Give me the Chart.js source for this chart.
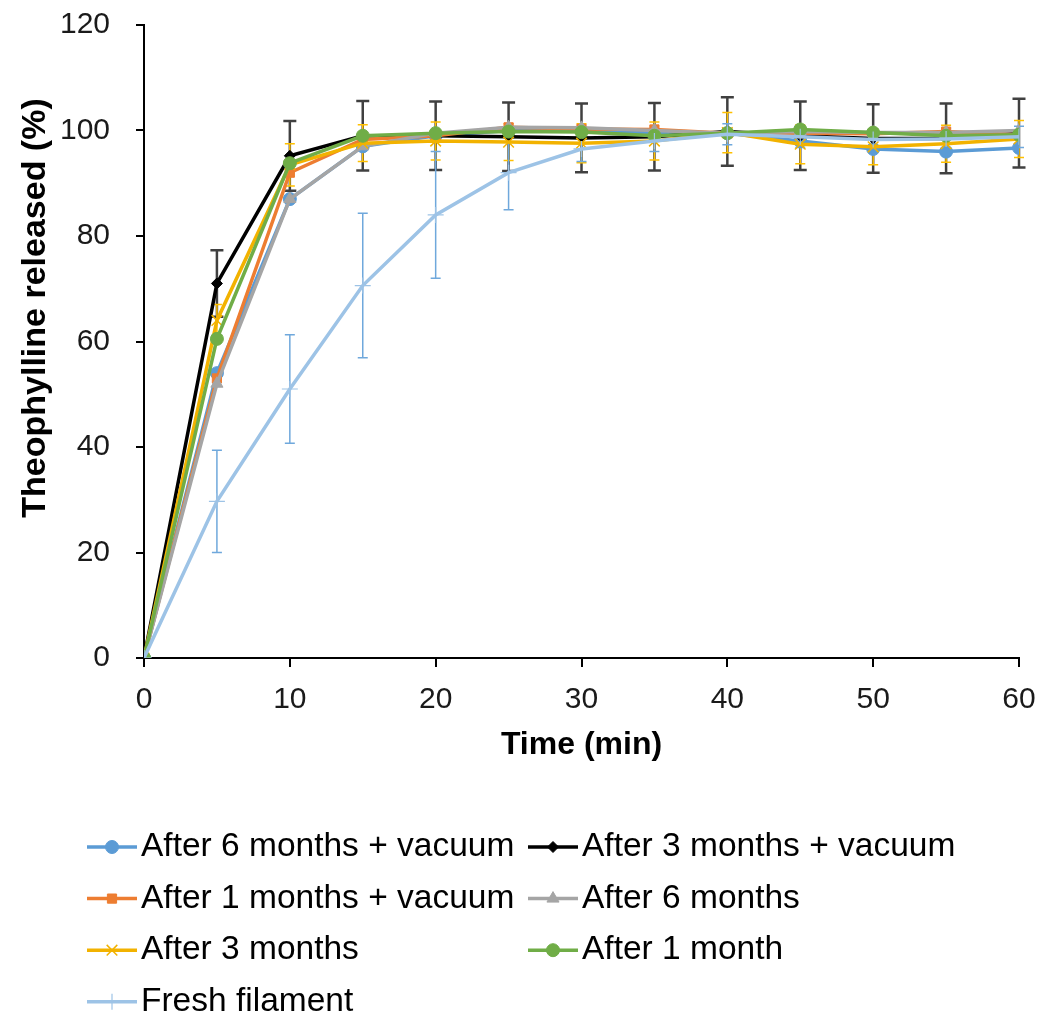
<!DOCTYPE html>
<html>
<head>
<meta charset="utf-8">
<script src="https://cdn.jsdelivr.net/npm/chart.js@4.4.1/dist/chart.umd.min.js"></script>
<style>
  html, body { margin: 0; padding: 0; background: #fff; }
  #wrap { width: 1043px; height: 1017px; }
</style>
</head>
<body>
<div id="wrap"><canvas id="releaseChart" width="1043" height="1017"></canvas></div>
<script>
// sampling times (min)
var timePoints = [0, 5, 10, 15, 20, 25, 30, 35, 40, 45, 50, 55, 60];

// % theophylline released
var sixMonthsVac   = [0, 54, 87, 97, 99, 100, 100, 99.5, 99.5, 98, 96.5, 96, 96.7];
var threeMonthsVac = [0, 71, 95.2, 99, 99, 98.8, 98.6, 98.8, 99.8, 99, 98.5, 98.5, 99.5];
var oneMonthVac    = [0, 53, 92, 98.3, 99, 100.6, 100.3, 100.2, 99.5, 99.5, 99.4, 99.8, 99.2];
var sixMonths      = [0, 52, 87, 97, 99.5, 100.6, 100.5, 100, 99.5, 99.8, 99.6, 99.6, 100];
var threeMonths    = [0, 64, 93.5, 97.6, 98, 97.8, 97.6, 98, 99.6, 97.4, 96.9, 97.5, 98.4];
var oneMonth       = [0, 60.5, 93.8, 99, 99.5, 99.8, 99.7, 99, 99.5, 100.2, 99.6, 99, 99.2];
var freshFilament  = [0, 29.7, 51, 70.6, 84, 92, 96.5, 98, 99.3, 98.8, 98.3, 98.4, 98.8];

// standard deviations (only the visible ones)
var threeMonthsVacSD = [0, 6.3, 6.6, 6.6, 6.5, 6.5, 6.5, 6.4, 6.5, 6.5, 6.5, 6.6, 6.5];
var threeMonthsSD    = [0, 3, 4, 3.5, 3.6, 3.5, 3.7, 3.6, 3.8, 3.7, 3.4, 3.5, 3.5];
var freshSD          = [0, 9.7, 10.3, 13.7, 12, 7, 2.4, 2, 2, 2, 2, 2, 2];

var seriesLabels = [
  "After 6 months + vacuum", "After 3 months + vacuum",
  "After 1 months + vacuum", "After 6 months",
  "After 3 months", "After 1 month", "Fresh filament"
];

var yTicks = [0, 20, 40, 60, 80, 100, 120];
var yTitle = "Theophylline released (%)";

function pts(values) {
  return values.map(function (v, i) { return { x: timePoints[i], y: v }; });
}

function series(i, values, color, style, radius, extra) {
  var ds = {
    label: seriesLabels[i],
    data: pts(values),
    borderColor: color,
    backgroundColor: color,
    borderWidth: 3.5,
    pointStyle: style,
    pointRadius: radius,
    pointHoverRadius: radius,
    pointBackgroundColor: color,
    pointBorderColor: color,
    pointBorderWidth: 1,
    tension: 0,
    order: 10 - i // later series on top, like Excel
  };
  for (var k in extra) ds[k] = extra[k];
  return ds;
}

var datasets = [
  series(0, sixMonthsVac, "#5B9BD5", "circle", 6.5),
  series(1, threeMonthsVac, "#000000", "rectRot", 5.5,
    { errors: threeMonthsVacSD, errorColor: "#404040", errorWidth: 2.5, errorCap: 6.5 }),
  series(2, oneMonthVac, "#ED7D31", "rect", 6.5),
  series(3, sixMonths, "#A5A5A5", "triangle", 7),
  series(4, threeMonths, "#F2B200", "crossRot", 7.5,
    { pointBorderWidth: 1.5, errors: threeMonthsSD, errorColor: "#FFC000", errorWidth: 1.5, errorCap: 5 }),
  series(5, oneMonth, "#70AD47", "circle", 6.5),
  series(6, freshFilament, "#9DC3E6", "cross", 8,
    { pointBorderWidth: 1.2, errors: freshSD, errorColor: "#6FA8DC", errorWidth: 1.5, errorCap: 5 })
];

var errorBarPlugin = {
  id: "errorBars",
  beforeDatasetsDraw: function (chart) {
    var ctx = chart.ctx;
    var xs = chart.scales.x, ys = chart.scales.y;
    chart.data.datasets.forEach(function (ds) {
      if (!ds.errors) return;
      ctx.save();
      ctx.strokeStyle = ds.errorColor;
      ctx.lineWidth = ds.errorWidth;
      ds.data.forEach(function (p, j) {
        var e = ds.errors[j];
        if (!e) return;
        var x = xs.getPixelForValue(p.x);
        var top = ys.getPixelForValue(p.y + e);
        var bot = ys.getPixelForValue(p.y - e);
        var c = ds.errorCap;
        ctx.beginPath();
        ctx.moveTo(x, top); ctx.lineTo(x, bot);
        ctx.moveTo(x - c, top); ctx.lineTo(x + c, top);
        ctx.moveTo(x - c, bot); ctx.lineTo(x + c, bot);
        ctx.stroke();
      });
      ctx.restore();
    });
  }
};

// y title sits a bit above the plot centre in the original, so draw it by hand
var yTitlePlugin = {
  id: "yTitle",
  afterDraw: function (chart) {
    var ctx = chart.ctx;
    ctx.save();
    ctx.translate(36, 308);
    ctx.rotate(-Math.PI / 2);
    ctx.fillStyle = "#000";
    ctx.font = "bold 34px 'Liberation Sans', Arial, sans-serif";
    ctx.textAlign = "center";
    ctx.textBaseline = "middle";
    ctx.fillText(yTitle, 0, 0);
    ctx.restore();
  }
};

// two-column legend under the chart
var legendPlugin = {
  id: "twoColLegend",
  afterDraw: function (chart) {
    var ctx = chart.ctx;
    var colX = [87, 528];
    var rowY0 = 847, rowStep = 51.6;
    ctx.save();
    chart.data.datasets.forEach(function (ds, i) {
      var x0 = colX[i % 2];
      var y = rowY0 + Math.floor(i / 2) * rowStep;
      ctx.strokeStyle = ds.borderColor;
      ctx.lineWidth = 3.5;
      ctx.beginPath();
      ctx.moveTo(x0, y); ctx.lineTo(x0 + 50, y);
      ctx.stroke();
      ctx.fillStyle = ds.pointBackgroundColor;
      ctx.strokeStyle = ds.pointBorderColor;
      ctx.lineWidth = ds.pointBorderWidth;
      Chart.helpers.drawPoint(ctx, {
        pointStyle: ds.pointStyle,
        radius: ds.pointRadius,
        borderWidth: ds.pointBorderWidth,
        rotation: 0
      }, x0 + 25, y);
      ctx.fillStyle = "#000";
      ctx.font = "33.5px 'Liberation Sans', Arial, sans-serif";
      ctx.textAlign = "left";
      ctx.textBaseline = "middle";
      ctx.fillText(ds.label, x0 + 54, y);
    });
    ctx.restore();
  }
};

var ctx = document.getElementById("releaseChart").getContext("2d");
var releaseChart = new Chart(ctx, {
  type: "line",
  data: { datasets: datasets },
  plugins: [errorBarPlugin, yTitlePlugin, legendPlugin],
  options: {
    responsive: false,
    animation: false,
    layout: { padding: { left: 16, right: 24, top: 25, bottom: 249 } },
    plugins: {
      legend: { display: false },
      tooltip: { enabled: false }
    },
    scales: {
      x: {
        type: "linear",
        min: 0,
        max: 60,
        afterFit: function (scale) {
          scale.height = 110;
          scale.paddingLeft = 0;
          scale.paddingRight = 0;
        },
        ticks: {
          stepSize: 10,
          padding: 15,
          color: "#1a1a1a",
          font: { family: "'Liberation Sans', Arial, sans-serif", size: 30 }
        },
        grid: { drawOnChartArea: false, drawTicks: true, tickLength: 9, color: "#000", lineWidth: 2 },
        border: { display: true, color: "#000", width: 2 },
        title: {
          display: true,
          text: "Time (min)",
          color: "#000",
          padding: { top: 0, bottom: 4 },
          font: { family: "'Liberation Sans', Arial, sans-serif", size: 32, weight: "bold" }
        }
      },
      y: {
        min: 0,
        max: 120,
        afterFit: function (scale) {
          scale.width = 128;
          scale.paddingTop = 0;
          scale.paddingBottom = 0;
        },
        afterBuildTicks: function (scale) {
          scale.ticks = yTicks.map(function (v) { return { value: v }; });
        },
        ticks: {
          padding: 26,
          color: "#1a1a1a",
          font: { family: "'Liberation Sans', Arial, sans-serif", size: 30 }
        },
        grid: { drawOnChartArea: false, drawTicks: true, tickLength: 8, color: "#000", lineWidth: 2 },
        border: { display: true, color: "#000", width: 2 },
        title: { display: false }
      }
    }
  }
});
</script>
</body>
</html>
